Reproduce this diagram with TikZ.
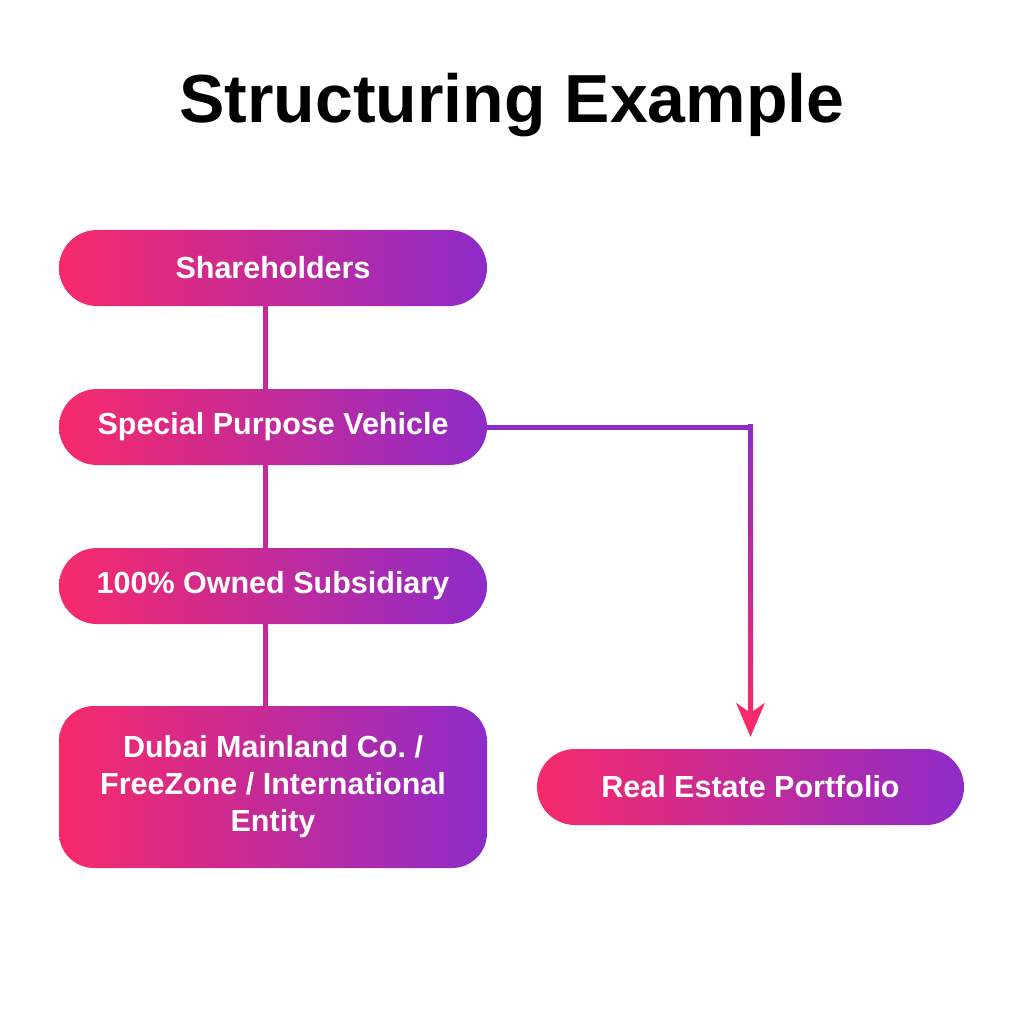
\documentclass[tikz,border=0pt]{standalone}
\usepackage{fontspec}
\setmainfont{Liberation Sans}
\usetikzlibrary{calc}
\definecolor{pinkc}{HTML}{F72A6A}
\definecolor{purpc}{HTML}{8E2BC9}
\definecolor{midc}{HTML}{C42A9A}
\tikzset{
  box/.style={rectangle, rounded corners=38pt, minimum width=428pt, minimum height=76pt,
    left color=pinkc, right color=purpc, text=white, inner sep=0pt,
    font=\fontsize{30.5}{37}\selectfont\bfseries, align=center},
  bigbox/.style={box, rounded corners=35pt, minimum height=162pt},
  conn/.style={line width=5pt, draw=midc},
  rconn/.style={line width=5pt, draw=purpc},
}
\begin{document}
\begin{tikzpicture}[x=1pt,y=-1pt]
\fill[white] (0,0) rectangle (1024,1024);
\useasboundingbox (0,0) rectangle (1024,1024);
\node[anchor=base, font=\fontsize{68}{80}\selectfont\bfseries] (title) at (512,123) {Structuring Example};
\node[box] (sh) at (273,268) {Shareholders};
\node[box] (spv) at (273,427) {Special Purpose Vehicle};
\node[box] (own) at (273,586) {100\% Owned Subsidiary};
\node[bigbox] (dub) at (273,787) {Dubai Mainland Co.\ /\\FreeZone / International\\Entity};
\node[box, minimum width=427pt] (re) at (750.5,787) {Real Estate Portfolio};
\draw[conn] ($(sh.south)+(-8,0)$) -- ($(spv.north)+(-8,0)$);
\draw[conn] ($(spv.south)+(-8,0)$) -- ($(own.north)+(-8,0)$);
\draw[conn] ($(own.south)+(-8,0)$) -- ($(dub.north)+(-8,0)$);
\coordinate (bend) at (re.north |- spv.east);
\coordinate (tip) at ($(re.north)+(0,-12)$);
\draw[rconn] (spv.east) -- ($(bend)+(2.5,0)$);
\shade[top color=purpc, bottom color=pinkc] ($(bend)+(-2.5,-2.5)$) rectangle ($(tip)+(2.5,-20)$);
\fill[pinkc] (tip) -- ++(-14.5,-34) -- ++(14.5,10) -- ++(14.5,-10) -- cycle;
\end{tikzpicture}
\end{document}
